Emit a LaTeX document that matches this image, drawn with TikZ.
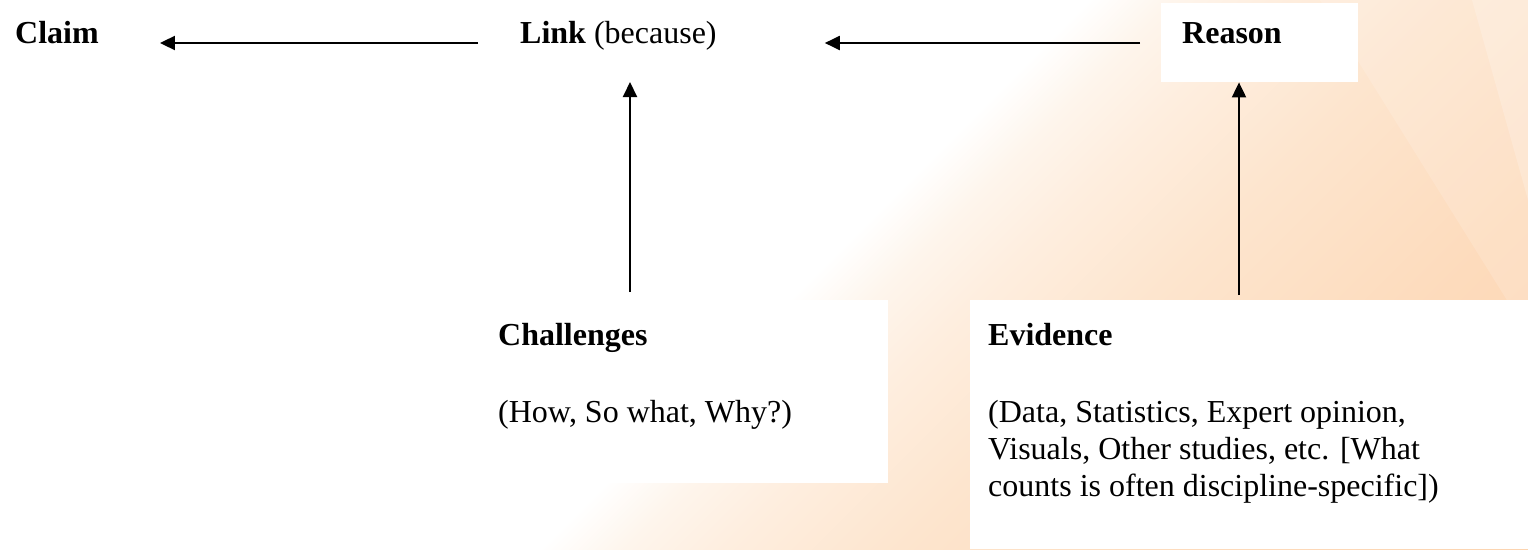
\documentclass[tikz,border=0pt]{standalone}
\usepackage{fontspec}
\setmainfont{Liberation Serif}
\usetikzlibrary{arrows.meta}
\definecolor{pk0}{HTML}{FEF5EC}
\definecolor{pkA}{HTML}{FEEEDF}
\definecolor{pkB}{HTML}{FDE5CE}
\definecolor{pkC}{HTML}{FDDBBC}
\definecolor{pkD}{HTML}{FCD4B0}
\pgfdeclarehorizontalshading{bgsh}{100bp}{color(0bp)=(white); color(51.1bp)=(white); color(53bp)=(pk0); color(55.2bp)=(pkA); color(59.1bp)=(pkB); color(65.5bp)=(pkC); color(73bp)=(pkD); color(100bp)=(pkD)}
\begin{document}
\begin{tikzpicture}[x=1pt,y=1pt,
  txt/.style={inner sep=0pt, font=\fontsize{32}{37}\selectfont},
  arr/.style={line width=2pt, -{Triangle[length=15pt,width=14pt]}},
  wbox/.style={fill=white, draw=none, inner sep=0pt, anchor=north west}]
\useasboundingbox (0,-549) rectangle (1528,0);
\begin{scope}
  \clip (0,-549) rectangle (1528,0);
  \shade[shading=bgsh, shading angle=-45] (-36,-1074.5) rectangle (1564,525.5);
  \fill[white, opacity=0.15] (1320,0) -- (1528,0) -- (1528,-334) -- cycle;
  \fill[white, opacity=0.2] (1472,0) -- (1528,0) -- (1528,-200) -- cycle;
\end{scope}
% white boxes
\node[wbox, minimum width=197pt, minimum height=79pt] (reasonbox) at (1161,-3) {};
\node[wbox, minimum width=408pt, minimum height=183pt] (chbox) at (480,-300) {};
\node[wbox, minimum width=558pt, minimum height=249pt] (evbox) at (970,-300) {};
% texts
\node[txt, anchor=base west] (claim) at (15,-43) {\textbf{Claim}};
\node[txt, anchor=base west] (link) at (520,-43) {\textbf{Link} (because)};
\node[txt, anchor=base west] (reason) at (1182,-43) {\textbf{Reason}};
\node[txt, anchor=base west] (chal) at (498,-345) {\textbf{Challenges}};
\node[txt, anchor=base west] (chalsub) at (498,-422) {(How, So what, Why?)};
\node[txt, anchor=base west] (evid) at (988,-345) {\textbf{Evidence}};
\node[txt, anchor=base west, align=left] (evsub) at (988,-496) {(Data, Statistics, Expert opinion,\\Visuals, Other studies, etc. [What\\counts is often discipline-specific])};
% connectors
\coordinate (lx) at (630,0);
\coordinate (rx) at (1239,0);
\draw[arr, shorten <=42pt, shorten >=61pt] (link.base west) -- (claim.base east);
\draw[arr, shorten <=42pt, shorten >=108pt] (reason.base west) -- (link.base east);
\draw[arr, shorten <=8pt, shorten >=39pt] (chbox.north -| lx) -- (link.base -| lx);
\draw[arr, shorten <=5pt] (evbox.north -| rx) -- (reasonbox.south -| rx);
\end{tikzpicture}
\end{document}
